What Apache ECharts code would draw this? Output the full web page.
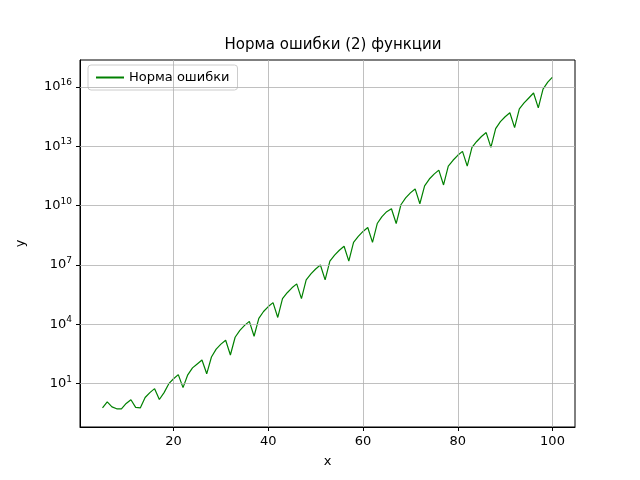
<!DOCTYPE html><html><head><meta charset="utf-8"><script src="https://cdn.jsdelivr.net/npm/echarts@6/dist/echarts.min.js"></script></head><body style="margin:0"><div id="c" style="width:640px;height:480px"></div><script>
const xs=[];for(let i=5;i<=100;i++)xs.push(i);
const logValues=[-0.22,0.08,-0.17,-0.27,-0.27,0.0,0.19,-0.2,-0.22,0.3,0.55,0.75,0.2,0.55,1.0,1.25,1.46,0.8,1.45,1.8,2.0,2.2,1.5,2.35,2.75,3.0,3.2,2.45,3.35,3.7,3.95,4.15,3.4,4.3,4.65,4.9,5.1,4.35,5.3,5.6,5.85,6.05,5.3,6.25,6.55,6.8,7.0,6.25,7.2,7.5,7.75,7.95,7.2,8.15,8.45,8.7,8.9,8.15,9.1,9.45,9.7,9.85,9.1,10.05,10.4,10.65,10.85,10.1,11.0,11.35,11.6,11.8,11.05,12.0,12.3,12.55,12.75,12.0,12.95,13.25,13.5,13.7,12.95,13.9,14.25,14.5,14.7,13.95,14.9,15.2,15.45,15.7,14.95,15.9,16.25,16.5];
const xTicks=[20,40,60,80,100];
const yTicks=[1,4,7,10,13,16];
const gl={color:'#b0b0b0',width:0.8,type:'solid'};
const ml=[...xTicks.map(v=>({xAxis:v})),...yTicks.map(v=>({yAxis:v}))];
const c=echarts.init(document.getElementById('c'));
c.setOption({animation:false,
title:{text:'Норма ошибки (2) функции',left:328,top:33,textAlign:'center',textStyle:{fontFamily:'DejaVu Sans',fontSize:15,fontWeight:'normal',color:'#000'}},
legend:{left:88,top:65,itemWidth:28,itemHeight:2,borderColor:'#ccc',borderWidth:1,borderRadius:3,padding:[6,8],icon:'rect',textStyle:{fontFamily:'DejaVu Sans',fontSize:13,color:'#000'}},
grid:{left:80,right:65,top:60,bottom:53,show:true,borderColor:'#000',borderWidth:1},
xAxis:{type:'value',min:0.25,max:104.75,name:'x',nameLocation:'middle',nameGap:28,nameTextStyle:{fontFamily:'DejaVu Sans',fontSize:13,color:'#000'},
axisLine:{onZero:false,lineStyle:{color:'#000'}},axisTick:{customValues:xTicks,length:4,lineStyle:{color:'#000'}},splitLine:{show:false},
axisLabel:{customValues:xTicks,fontFamily:'DejaVu Sans',fontSize:13,color:'#000'}},
yAxis:{type:'value',min:-1.19,max:17.37,name:'y',nameLocation:'middle',nameGap:53,nameTextStyle:{fontFamily:'DejaVu Sans',fontSize:13,color:'#000'},
axisLine:{show:true,onZero:false,lineStyle:{color:'#000'}},axisTick:{show:true,customValues:yTicks,length:4,lineStyle:{color:'#000'}},splitLine:{show:false},
axisLabel:{customValues:yTicks,formatter:v=>'{b|10}{s|'+v+'}',rich:{b:{fontFamily:'DejaVu Sans',fontSize:13,color:'#000'},s:{fontFamily:'DejaVu Sans',fontSize:9,color:'#000',padding:[0,0,9,0]}}}},
series:[{name:'Норма ошибки',type:'line',data:xs.map((x,i)=>[x,logValues[i]]),showSymbol:false,lineStyle:{color:'green',width:1.2},itemStyle:{color:'green'},
markLine:{silent:true,symbol:'none',label:{show:false},lineStyle:gl,data:ml},z:3}]});
</script></body></html>
